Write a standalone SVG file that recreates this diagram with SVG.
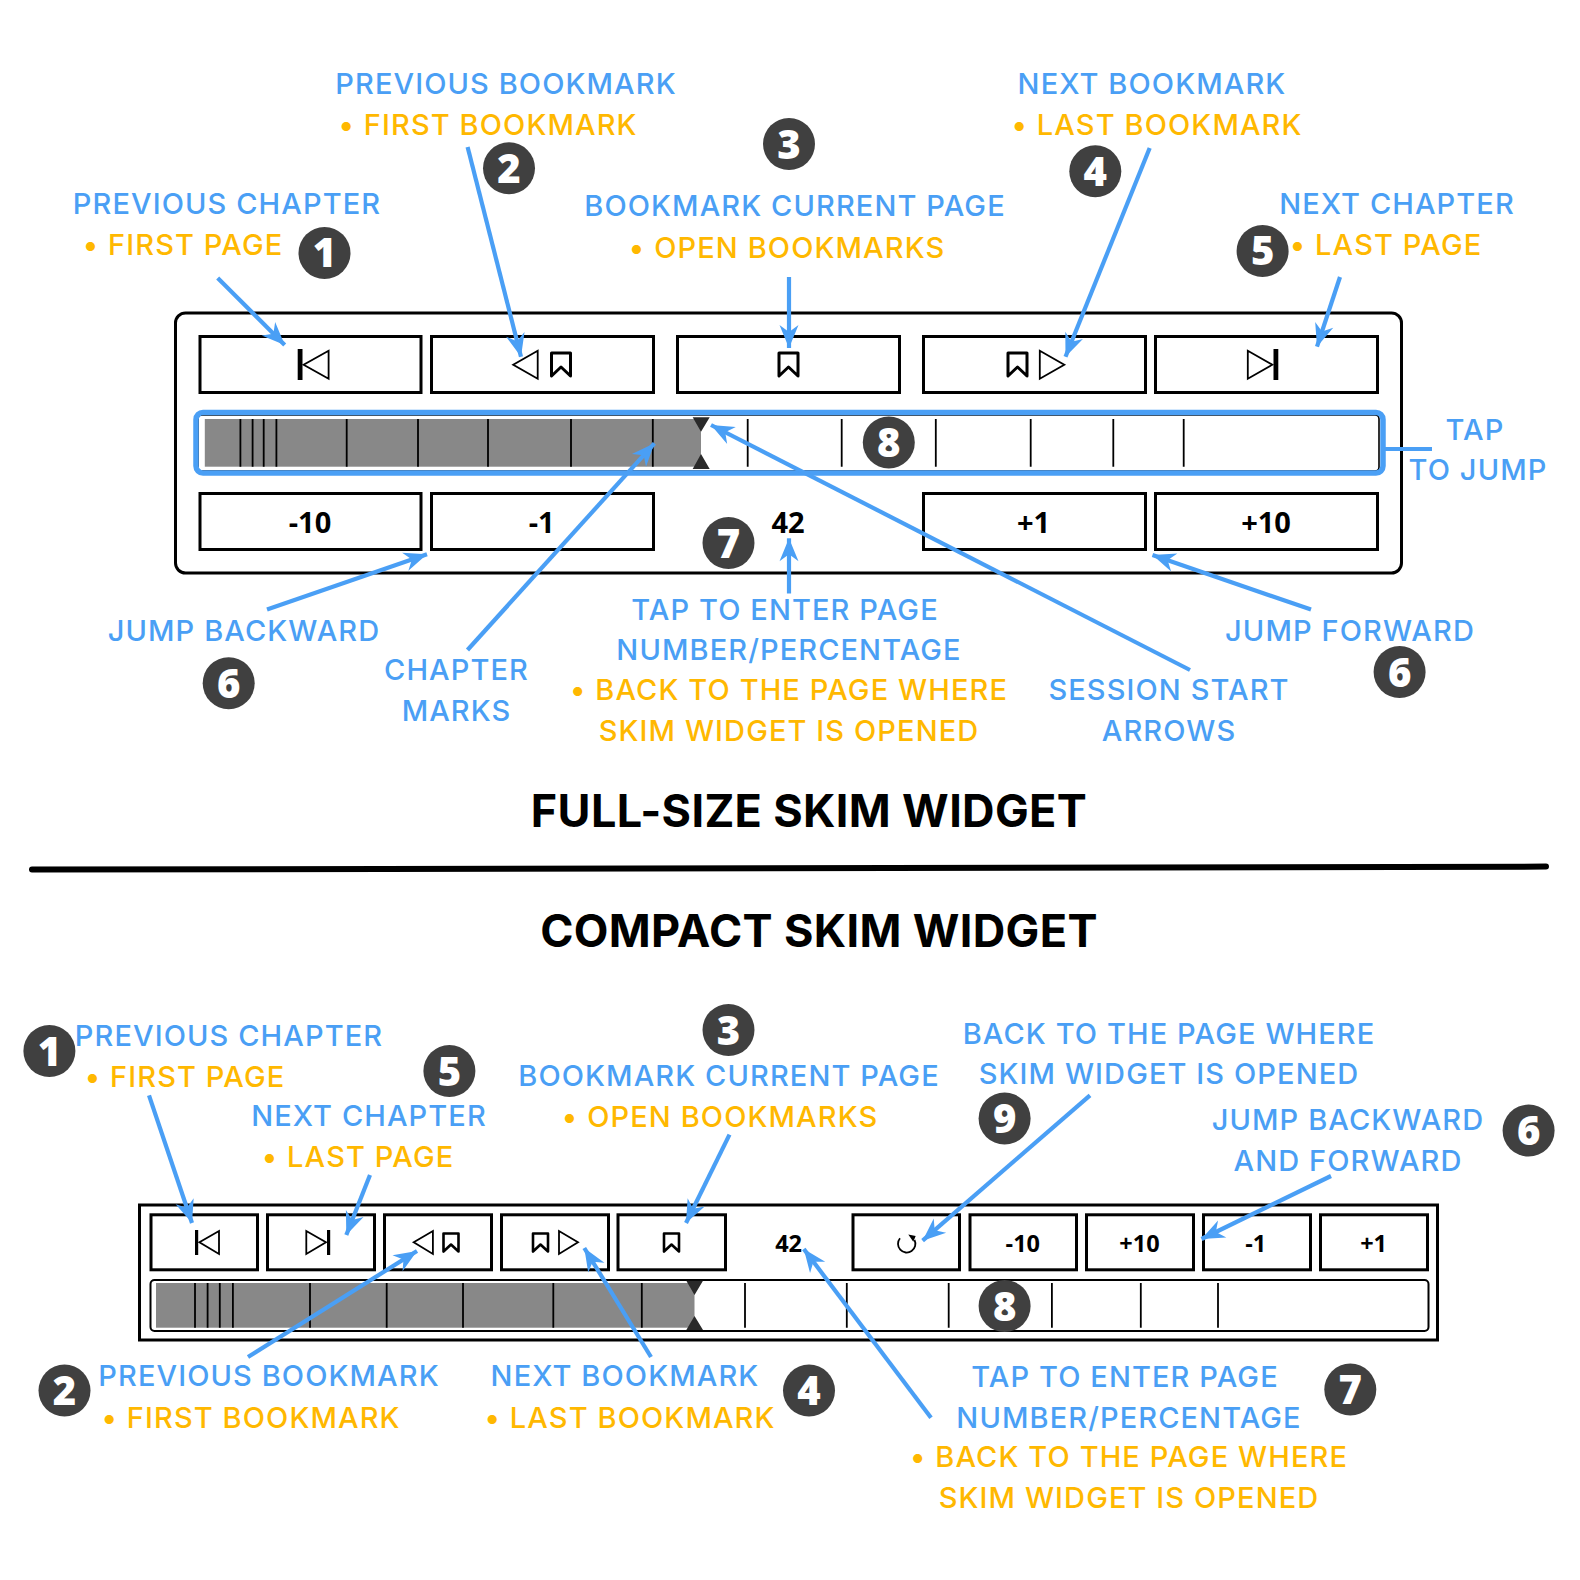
<svg xmlns="http://www.w3.org/2000/svg" width="1580" height="1580" viewBox="0 0 1580 1580">
<style>
text{font-family:"Open Sans","Noto Sans",sans-serif;text-anchor:middle}
.b,.y,.h{font-family:Inter,"Open Sans",sans-serif}
.b{fill:#4a9ff5;font-size:29px;letter-spacing:1.1px;font-weight:500}
.y{fill:#ffb800;font-size:29px;letter-spacing:1.1px;font-weight:500}
.h{fill:#000;font-size:45px;font-weight:700;letter-spacing:0.35px}
.n{fill:#fff;font-size:40px;font-weight:800}
.l{fill:#000;font-size:29px;font-weight:700}
.s{fill:#000;font-size:23.5px;font-weight:700}
.c{fill:#404040}
.btn{fill:#fff;stroke:#000;stroke-width:3}
.tri{fill:#fff;stroke:#000;stroke-width:1.8}
.bm{fill:#fff;stroke:#000;stroke-width:3;stroke-linejoin:round}
.bms{fill:#fff;stroke:#000;stroke-width:2.6;stroke-linejoin:round}
.tick{stroke:#000;stroke-width:1.8}
.gr{fill:#888}
.mk{fill:#2a2a2a}
.a{stroke:#4a9ff5;stroke-width:4.2;fill:none;marker-end:url(#arr)}
.a0{stroke:#4a9ff5;stroke-width:4.2;fill:none}
</style>
<defs>
<marker id="arr" markerUnits="userSpaceOnUse" markerWidth="30" markerHeight="28" refX="26" refY="14" orient="auto">
<path d="M26,14 L3,4.5 L10,14 L3,23.500 Z" fill="#4a9ff5"/>
</marker>
<path id="bk" d="M0,0 H19 V23 L9.5,14 L0,23 Z"/>
<path id="bks" d="M0,0 H15 V18 L7.5,11 L0,18 Z"/>
</defs>

<g id="titles">
<text class="h" x="809" y="827">FULL-SIZE SKIM WIDGET</text>
<text class="h" x="819" y="947">COMPACT SKIM WIDGET</text>
<path d="M32,869.6 L1546,866.6" stroke="#000" stroke-width="6" stroke-linecap="round" fill="none"/>
</g>

<g id="full-widget">
<rect x="175.500" y="313" width="1226" height="260" rx="10" fill="#fff" stroke="#000" stroke-width="3"/>
<rect class="btn" x="200" y="336.5" width="221" height="56"/>
<rect class="btn" x="431.5" y="336.5" width="222" height="56"/>
<rect class="btn" x="677.5" y="336.5" width="222" height="56"/>
<rect class="btn" x="923.5" y="336.5" width="222" height="56"/>
<rect class="btn" x="1155.5" y="336.5" width="222" height="56"/>
<rect x="297.7" y="349" width="4.8" height="31"/>
<path class="tri" d="M328.6,350.7 V378.7 L303.6,364.7 Z"/>
<path class="tri" d="M537.7,350.7 V378.7 L513.2,364.7 Z"/>
<use href="#bk" class="bm" x="551.5" y="353"/>
<use href="#bk" class="bm" x="779" y="353"/>
<use href="#bk" class="bm" x="1008" y="353"/>
<path class="tri" d="M1039.8,350.7 V378.7 L1064.3,364.7 Z"/>
<path class="tri" d="M1247.8,350.7 V378.7 L1272.3,364.7 Z"/>
<rect x="1273.5" y="349" width="4.8" height="31"/>
<rect x="198" y="415" width="1181" height="56" rx="4" fill="#fff" stroke="#000" stroke-width="1.6"/>
<rect x="196" y="412.5" width="1187" height="60.5" rx="7" fill="none" stroke="#4a9ff5" stroke-width="5.500"/>
<rect class="gr" x="204.8" y="419" width="496.2" height="47.7"/>
<path class="mk" d="M692.7,417.3 H709.7 L701,431.7 Z M692.7,469 H709.7 L701,454 Z"/>
<path class="tick" d="M240.4,419V466.7M252.6,419V466.7M263.7,419V466.7M276.4,419V466.7M346.7,419V466.7M418,419V466.7M488,419V466.7M571,419V466.7M652.8,419V466.7M747.7,419V466.7M841.7,419V466.7M935.8,419V466.7M1030.7,419V466.7M1113.3,419V466.7M1183.7,419V466.7"/>
<rect class="btn" x="200" y="493.5" width="221" height="56"/>
<rect class="btn" x="431.5" y="493.5" width="222" height="56"/>
<rect class="btn" x="923.5" y="493.5" width="222" height="56"/>
<rect class="btn" x="1155.5" y="493.5" width="222" height="56"/>
<text class="l" x="310" y="533">-10</text>
<text class="l" x="541.6" y="533">-1</text>
<text class="l" x="788" y="533">42</text>
<text class="l" x="1033.5" y="533">+1</text>
<text class="l" x="1266" y="533">+10</text>
</g>

<g id="compact-widget">
<rect x="139.5" y="1205" width="1298" height="135" fill="#fff" stroke="#000" stroke-width="3"/>
<rect class="btn" x="151" y="1214.8" width="106.5" height="55"/>
<rect class="btn" x="267.5" y="1214.8" width="107" height="55"/>
<rect class="btn" x="384.5" y="1214.8" width="107" height="55"/>
<rect class="btn" x="501.5" y="1214.8" width="107" height="55"/>
<rect class="btn" x="618" y="1214.8" width="107.5" height="55"/>
<rect class="btn" x="853" y="1214.8" width="106.5" height="55"/>
<rect class="btn" x="970" y="1214.8" width="106.5" height="55"/>
<rect class="btn" x="1086.5" y="1214.8" width="107" height="55"/>
<rect class="btn" x="1203.5" y="1214.8" width="107" height="55"/>
<rect class="btn" x="1320.5" y="1214.8" width="107" height="55"/>
<rect x="195" y="1230" width="3.2" height="25"/>
<path class="tri" d="M219,1231 V1254 L199.4,1242.3 Z"/>
<path class="tri" d="M306.3,1231 V1254 L326,1242.3 Z"/>
<rect x="327" y="1230" width="3.2" height="25"/>
<path class="tri" d="M432.9,1231 V1254 L413.7,1242.3 Z"/>
<use href="#bks" class="bms" x="443.5" y="1233.5"/>
<use href="#bks" class="bms" x="533" y="1233.5"/>
<path class="tri" d="M559,1231 V1254 L578,1242.3 Z"/>
<use href="#bks" class="bms" x="664" y="1233.5"/>
<path d="M900,1238.3 A8.7,8.7 0 1 0 914.500,1240 " fill="none" stroke="#000" stroke-width="1.8"/>
<path d="M908.3,1234.500 L915.7,1236 L913.3,1241.7 Z" fill="#000"/>
<text class="s" x="788.6" y="1251.7">42</text>
<text class="s" x="1022.8" y="1251.7">-10</text>
<text class="s" x="1139.5" y="1251.7">+10</text>
<text class="s" x="1255.7" y="1251.7">-1</text>
<text class="s" x="1373.6" y="1251.7">+1</text>
<rect x="150.5" y="1280" width="1278" height="51" rx="4" fill="#fff" stroke="#000" stroke-width="2"/>
<rect class="gr" x="156" y="1283" width="538.5" height="44.7"/>
<path class="mk" d="M686.3,1280.7 H703 L694.5,1295 Z M686.3,1330 H703 L694.5,1316 Z"/>
<path class="tick" d="M195,1283V1327.7M207.6,1283V1327.7M219.8,1283V1327.7M232.9,1283V1327.7M310,1283V1327.7M386.7,1283V1327.7M463,1283V1327.7M553.3,1283V1327.7M641.8,1283V1327.7M745,1283V1327.7M846.8,1283V1327.7M948.7,1283V1327.7M1051.9,1283V1327.7M1140.8,1283V1327.7M1218,1283V1327.7"/>
</g>

<g id="connectors">
<path class="a" d="M217.7,278 L284.7,345"/>
<path class="a" d="M467.6,147 L521,356.7"/>
<path class="a" d="M789,277 V348"/>
<path class="a" d="M1149.7,148 L1065.5,356.7"/>
<path class="a" d="M1340,277 L1317,346.7"/>
<path class="a0" d="M1385,449 H1432"/>
<path class="a" d="M267,609.6 L427,554.3"/>
<path class="a" d="M467.5,650 L654.4,443.3"/>
<path class="a" d="M1190,670 L711,425"/>
<path class="a" d="M789,593.5 V538.3"/>
<path class="a" d="M1311,609.6 L1152.5,555"/>
<path class="a" d="M149,1095.3 L192,1223"/>
<path class="a" d="M370,1175 L346.3,1235"/>
<path class="a" d="M248,1357 L417,1251"/>
<path class="a" d="M651,1357 L584.3,1248"/>
<path class="a" d="M729.5,1134.6 L686,1223"/>
<path class="a" d="M1090,1095.3 L922.6,1240.7"/>
<path class="a" d="M1331,1176 L1201.5,1239"/>
<path class="a" d="M931,1417.8 L803.8,1249"/>
</g>

<g id="labels-full">
<text class="b" x="506" y="93.500">PREVIOUS BOOKMARK</text>
<text class="y" x="488" y="134.500">• FIRST BOOKMARK</text>
<text class="b" x="1152" y="93.500">NEXT BOOKMARK</text>
<text class="y" x="1157" y="134.500">• LAST BOOKMARK</text>
<text class="b" x="227" y="213.500">PREVIOUS CHAPTER</text>
<text class="y" x="183" y="254.500">• FIRST PAGE</text>
<text class="b" x="795" y="216">BOOKMARK CURRENT PAGE</text>
<text class="y" x="787" y="257.500">• OPEN BOOKMARKS</text>
<text class="b" x="1397" y="213.500">NEXT CHAPTER</text>
<text class="y" x="1386" y="254.500">• LAST PAGE</text>
<text class="b" x="1475" y="439.500">TAP</text>
<text class="b" x="1478" y="479.500">TO JUMP</text>
<text class="b" x="244" y="640.500">JUMP BACKWARD</text>
<text class="b" x="456.500" y="679.500">CHAPTER</text>
<text class="b" x="456.500" y="720.500">MARKS</text>
<text class="b" x="785" y="619.500">TAP TO ENTER PAGE</text>
<text class="b" x="789" y="659.500">NUMBER/PERCENTAGE</text>
<text class="y" x="789" y="699.500">• BACK TO THE PAGE WHERE</text>
<text class="y" x="789" y="740.500">SKIM WIDGET IS OPENED</text>
<text class="b" x="1169" y="699.500">SESSION START</text>
<text class="b" x="1169" y="740.500">ARROWS</text>
<text class="b" x="1350" y="640.500">JUMP FORWARD</text>
</g>

<g id="labels-compact">
<text class="b" x="229" y="1045.500">PREVIOUS CHAPTER</text>
<text class="y" x="185" y="1086.500">• FIRST PAGE</text>
<text class="b" x="369" y="1125.500">NEXT CHAPTER</text>
<text class="y" x="358" y="1166.500">• LAST PAGE</text>
<text class="b" x="729" y="1085.500">BOOKMARK CURRENT PAGE</text>
<text class="y" x="720" y="1126.500">• OPEN BOOKMARKS</text>
<text class="b" x="1169" y="1043.500">BACK TO THE PAGE WHERE</text>
<text class="b" x="1169" y="1083.500">SKIM WIDGET IS OPENED</text>
<text class="b" x="1348" y="1130">JUMP BACKWARD</text>
<text class="b" x="1348" y="1170.500">AND FORWARD</text>
<text class="b" x="269" y="1385.500">PREVIOUS BOOKMARK</text>
<text class="y" x="251" y="1427.500">• FIRST BOOKMARK</text>
<text class="b" x="625" y="1385.500">NEXT BOOKMARK</text>
<text class="y" x="630" y="1427.500">• LAST BOOKMARK</text>
<text class="b" x="1125" y="1386.500">TAP TO ENTER PAGE</text>
<text class="b" x="1129" y="1427.500">NUMBER/PERCENTAGE</text>
<text class="y" x="1129" y="1466.500">• BACK TO THE PAGE WHERE</text>
<text class="y" x="1129" y="1507.500">SKIM WIDGET IS OPENED</text>
</g>

<g id="badges">
<g id="b1"><circle class="c" cx="324.500" cy="253" r="26"/><text class="n" x="324.500" y="267">1</text></g>
<g id="b2"><circle class="c" cx="509" cy="168.300" r="26"/><text class="n" x="509" y="182.500">2</text></g>
<g id="b3"><circle class="c" cx="789" cy="144" r="26"/><text class="n" x="789" y="158.500">3</text></g>
<g id="b4"><circle class="c" cx="1095.300" cy="171.300" r="26"/><text class="n" x="1095.300" y="185.500">4</text></g>
<g id="b5"><circle class="c" cx="1262.600" cy="251" r="26"/><text class="n" x="1262.600" y="265">5</text></g>
<g id="b6a"><circle class="c" cx="228.700" cy="683.200" r="26"/><text class="n" x="228.700" y="697.500">6</text></g>
<g id="b6b"><circle class="c" cx="1399.600" cy="672" r="26"/><text class="n" x="1399.600" y="686.500">6</text></g>
<g id="b7a"><circle class="c" cx="728.500" cy="543" r="26"/><text class="n" x="728.500" y="557.500">7</text></g>
<g id="b8a"><circle class="c" cx="888.800" cy="442.400" r="26"/><text class="n" x="888.800" y="457">8</text></g>
<g id="b1c"><circle class="c" cx="49.400" cy="1051" r="26"/><text class="n" x="49.400" y="1065.500">1</text></g>
<g id="b5c"><circle class="c" cx="449.400" cy="1071" r="26"/><text class="n" x="449.400" y="1085.500">5</text></g>
<g id="b3c"><circle class="c" cx="728.500" cy="1030" r="26"/><text class="n" x="728.500" y="1044.500">3</text></g>
<g id="b9c"><circle class="c" cx="1004.600" cy="1118.500" r="26"/><text class="n" x="1004.600" y="1133">9</text></g>
<g id="b6c"><circle class="c" cx="1528.600" cy="1130.600" r="26"/><text class="n" x="1528.600" y="1145">6</text></g>
<g id="b2c"><circle class="c" cx="64.500" cy="1390.600" r="26"/><text class="n" x="64.500" y="1405">2</text></g>
<g id="b4c"><circle class="c" cx="809" cy="1390.600" r="26"/><text class="n" x="809" y="1405">4</text></g>
<g id="b7c"><circle class="c" cx="1350.300" cy="1389.600" r="26"/><text class="n" x="1350.300" y="1404">7</text></g>
<g id="b8c"><circle class="c" cx="1004.600" cy="1306" r="26"/><text class="n" x="1004.600" y="1320.500">8</text></g>
</g>
</svg>
